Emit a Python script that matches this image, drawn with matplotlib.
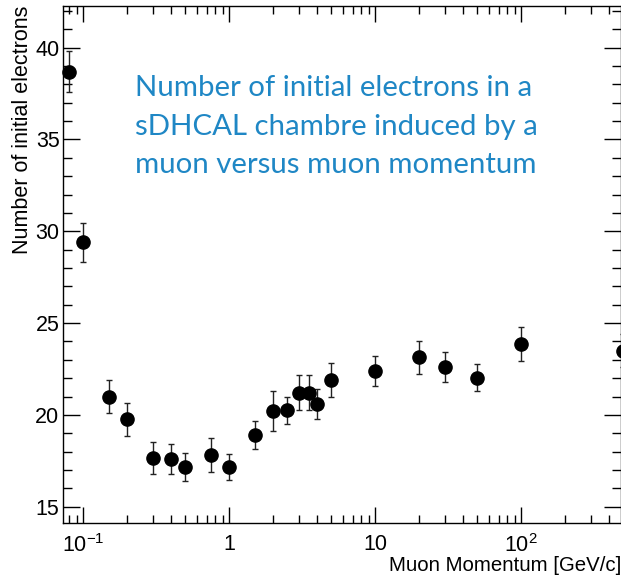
import numpy as np
import matplotlib.pyplot as plt
from matplotlib.ticker import LogLocator, FixedLocator, FuncFormatter, NullFormatter, MultipleLocator

plt.rcParams['font.family'] = ['Liberation Sans', 'DejaVu Sans']
plt.rcParams['mathtext.fontset'] = 'custom'
plt.rcParams['mathtext.rm'] = 'Liberation Sans'
plt.rcParams['mathtext.default'] = 'regular'

# muon momentum [GeV/c], mean number of initial electrons and its uncertainty
momentum = [0.08, 0.1, 0.15, 0.2, 0.3, 0.4, 0.5, 0.75, 1.0, 1.5, 2.0, 2.5,
            3.0, 3.5, 4.0, 5.0, 10.0, 20.0, 30.0, 50.0, 100.0, 500.0]
n_electrons = [38.7, 29.4, 21.0, 19.75, 17.66, 17.6, 17.17, 17.8, 17.17, 18.9, 20.2, 20.25,
               21.2, 21.2, 20.6, 21.9, 22.38, 23.14, 22.61, 22.03, 23.88, 23.48]
n_err = [1.1, 1.05, 0.9, 0.9, 0.88, 0.8, 0.75, 0.92, 0.7, 0.75, 1.1, 0.75,
         0.95, 0.95, 0.8, 0.9, 0.8, 0.9, 0.82, 0.75, 0.93, 0.9]

fig = plt.figure(figsize=(6.21, 5.76), dpi=100)
ax = fig.add_axes([0.1014, 0.092, 0.8986, 0.8976])

ax.errorbar(momentum, n_electrons, yerr=n_err, fmt='o', color='black',
            markersize=9.5, ecolor='#222222', elinewidth=1.0, capsize=2,
            capthick=1.0, clip_on=False, zorder=3)

ax.set_xscale('log')
ax.set_xlim(0.0726, 482)
ax.set_ylim(14.11, 42.27)

ax.xaxis.set_major_locator(FixedLocator([0.1, 1, 10, 100]))
ax.xaxis.set_minor_locator(LogLocator(base=10, subs=np.arange(2, 10), numticks=20))
ax.xaxis.set_minor_formatter(NullFormatter())
labels = {0.1: '$10^{-1}$', 1: '1', 10: '10', 100: '$10^{2}$'}
ax.xaxis.set_major_formatter(FuncFormatter(lambda v, p: labels.get(round(v, 3), '')))

ax.yaxis.set_major_locator(MultipleLocator(5))
ax.yaxis.set_minor_locator(MultipleLocator(1))

ax.tick_params(which='both', direction='in', top=True, right=True, labelsize=15.5)
ax.tick_params(axis='x', which='major', length=11.5, width=1, pad=8)
ax.tick_params(axis='x', which='minor', length=6, width=1)
ax.tick_params(axis='y', which='major', length=12, width=1, pad=2.5)
ax.tick_params(axis='y', which='minor', length=6.5, width=1)
for s in ax.spines.values():
    s.set_linewidth(1)

ax.set_xlabel('Muon Momentum [GeV/c]', fontsize=14.7, loc='right', labelpad=-1)
ax.set_ylabel('Number of initial electrons', fontsize=15.5, loc='top', labelpad=2)

ax.text(0.129, 0.866,
        'Number of initial electrons in a\nsDHCAL chambre induced by a\nmuon versus muon momentum',
        transform=ax.transAxes, fontsize=21.2, color='#1F87C5', family='Lato',
        ha='left', va='top', linespacing=1.6)

fig.savefig('out.png', dpi=100)
